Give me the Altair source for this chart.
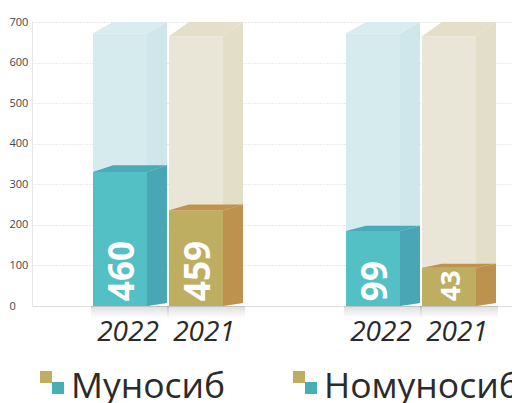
import altair as alt
import pandas as pd

# ---------------- data ----------------
groups = ["Муносиб", "Номуносиб"]
years = ["2022", "2021"]
value_labels = [[460, 459], [99, 43]]          # printed on the bars
bar_heights = [[330, 236], [185, 94]]           # bar tops
ghost_heights = [[672, 665], [672, 665]]        # pale background columns
axis_max = 700
y_ticks = [0, 100, 200, 300, 400, 500, 600, 700]

# ---------------- layout / style ----------------
PLOT_W, PLOT_H = 480, 284
group_left = [61, 314]
BAR_W, DEPTH, GAP = 54, 20, 2
K = PLOT_H / axis_max
FONT = "Open Sans"


def dy(v):
    # perspective offset of the back edge (in data units)
    return (3 + 0.029 * v * K) / K


front_c = {"2022": "#52c0c4", "2021": "#beae62"}
side_c = {"2022": "#48a6b5", "2021": "#bd924f"}
top_c = {"2022": "#4aaab7", "2021": "#c2914c"}
gfront_c = {"2022": "#d6ebee", "2021": "#e9e6d7"}
gside_c = {"2022": "#cfe6ea", "2021": "#e3dec7"}
gtop_c = {"2022": "#d9edf0", "2021": "#e4dfc8"}

ghost_rects, solid_rects, ghost_areas, solid_areas = [], [], [], []
labels, year_lbl, shadows = [], [], []
for gi, g in enumerate(groups):
    for yi, yr in enumerate(years):
        xl = group_left[gi] + yi * (BAR_W + DEPTH + GAP)
        xr = xl + BAR_W
        v = bar_heights[gi][yi]
        gh = ghost_heights[gi][yi]
        d = dy(v)
        fid = f"{gi}-{yi}"
        ghost_rects.append(dict(x=xl, x2=xr, y=0, y2=gh, fill=gfront_c[yr]))
        solid_rects.append(dict(x=xl, x2=xr, y=0, y2=v, fill=front_c[yr]))
        shadows.append(dict(x=xl - 2, x2=xr + DEPTH + 2, y=0, y2=-30))
        for (px, t, b) in [(xr, gh, 0), (xr + DEPTH, axis_max, dy(0))]:
            ghost_areas.append(dict(face=fid + "gs", x=px, y=t, y2=b, fill=gside_c[yr]))
        for (px, t, b) in [(xl, gh, gh), (xl + DEPTH, axis_max, gh), (xr, axis_max, gh),
                           (xr + DEPTH, axis_max, axis_max)]:
            ghost_areas.append(dict(face=fid + "gt", x=px, y=t, y2=b, fill=gtop_c[yr]))
        for (px, t, b) in [(xr, v, 0), (xr + DEPTH, v + d, dy(0))]:
            solid_areas.append(dict(face=fid + "s", x=px, y=t, y2=b, fill=side_c[yr]))
        for (px, t, b) in [(xl, v, v), (xl + DEPTH, v + d, v), (xr, v + d, v),
                           (xr + DEPTH, v + d, v + d)]:
            solid_areas.append(dict(face=fid + "t", x=px, y=t, y2=b, fill=top_c[yr]))
        fs = min(35, 0.7 * v * K)
        labels.append(dict(x=xl + BAR_W / 2 + 3, y=12, text=str(value_labels[gi][yi]), fs=fs))
        year_lbl.append(dict(x=xl + 35, text=yr))

legend_sq = []
legend_txt = []
for gi, g in enumerate(groups):
    legend_sq.append(dict(x=group_left[gi] - 47, yp=355, fill="#beae62"))
    legend_sq.append(dict(x=group_left[gi] - 35, yp=366, fill="#48aeb5"))
    legend_txt.append(dict(x=group_left[gi] - 22, text=g))

xs = alt.Scale(domain=[0, PLOT_W], nice=False, zero=False)
ys = alt.Scale(domain=[0, axis_max], nice=False, zero=True)

x_axis = alt.Axis(labels=False, ticks=False, grid=False, domain=True,
                  domainColor="#dedede", title=None)
y_axis = alt.Axis(values=y_ticks, title=None, ticks=False, tickSize=0,
                  labelAlign="left", labelPadding=23, labelFontSize=11,
                  labelColor="#444444", labelFont=FONT, labelBaseline="middle",
                  grid=True, gridDash=[1, 2], gridColor="#d4d4d4",
                  domain=True, domainColor="#e6e6e6")

X = lambda f="x": alt.X(f"{f}:Q", scale=xs, axis=x_axis, title=None)
Y = lambda f="y": alt.Y(f"{f}:Q", scale=ys, axis=y_axis, title=None)

shadow = alt.Chart(pd.DataFrame(shadows)).mark_rect(
    color=alt.Gradient(gradient="linear", x1=0, x2=0, y1=0, y2=1,
                       stops=[alt.GradientStop(color="rgba(0,0,0,0.13)", offset=0),
                              alt.GradientStop(color="rgba(0,0,0,0)", offset=1)])
).encode(x=X(), x2="x2:Q", y=Y(), y2="y2:Q")

g_rect = alt.Chart(pd.DataFrame(ghost_rects)).mark_rect().encode(
    x=X(), x2="x2:Q", y=Y(), y2="y2:Q", color=alt.Color("fill:N", scale=None))
g_area = alt.Chart(pd.DataFrame(ghost_areas)).mark_area().encode(
    x=X(), y=Y(), y2="y2:Q", detail="face:N", color=alt.Color("fill:N", scale=None))
s_rect = alt.Chart(pd.DataFrame(solid_rects)).mark_rect().encode(
    x=X(), x2="x2:Q", y=Y(), y2="y2:Q", color=alt.Color("fill:N", scale=None))
s_area = alt.Chart(pd.DataFrame(solid_areas)).mark_area().encode(
    x=X(), y=Y(), y2="y2:Q", detail="face:N", color=alt.Color("fill:N", scale=None))

val_txt = alt.Chart(pd.DataFrame(labels)).mark_text(
    angle=270, align="left", baseline="middle", font=FONT, fontWeight="bold", color="white"
).encode(x=X(), y=Y(), text="text:N", size=alt.Size("fs:Q", scale=None))

yr_txt = alt.Chart(pd.DataFrame(year_lbl)).mark_text(
    align="center", baseline="alphabetic", font=FONT, fontStyle="italic", fontSize=28,
    fontWeight=400, color="#2a2a2a"
).encode(x=X(), y=alt.value(319), text="text:N")

lg_sq = alt.Chart(pd.DataFrame(legend_sq)).mark_square(size=144, opacity=1).encode(
    x=X(), y=alt.Y("yp:Q", scale=None), color=alt.Color("fill:N", scale=None))

lg_txt = alt.Chart(pd.DataFrame(legend_txt)).mark_text(
    align="left", baseline="alphabetic", font=FONT, fontSize=35.5, color="#2b2b2b"
).encode(x=X(), y=alt.value(376), text="text:N")

chart = alt.layer(shadow, g_rect, g_area, s_rect, s_area, val_txt, yr_txt, lg_sq, lg_txt).properties(
    width=PLOT_W, height=PLOT_H,
    autosize=alt.AutoSizeParams(type="none"),
    padding={"left": 32, "top": 22, "right": 0, "bottom": 97},
).configure_view(stroke=None)

chart.save("out.html", embed_options={"renderer": "svg", "actions": False})
